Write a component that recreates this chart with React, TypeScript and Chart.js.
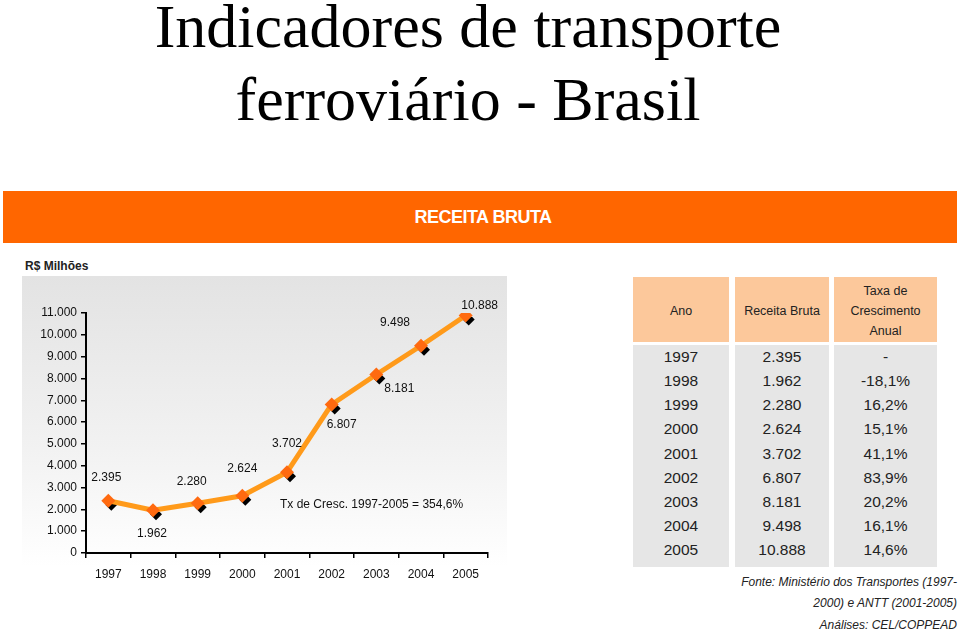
import React, { useEffect, useRef } from "react";
import { Chart, registerables } from "chart.js";

Chart.register(...registerables);

const years = ["1997", "1998", "1999", "2000", "2001", "2002", "2003", "2004", "2005"];
const revenue = [2395, 1962, 2280, 2624, 3702, 6807, 8181, 9498, 10888];
const growth = ["-", "-18,1%", "16,2%", "15,1%", "41,1%", "83,9%", "20,2%", "16,1%", "14,6%"];
const yMin = 0;
const yMax = 11000;
const yStep = 1000;

// label placement relative to each point (style only)
const labelOffsets: [number, number][] = [
  [-2, -23], [-1, 23], [-6, -22], [0, -27], [0, -29], [10, 20], [23, 14], [-26, -23], [14, -10],
];

const FONT = "'Liberation Sans', Arial, sans-serif";

const fmt = (n: number) => {
  const s = Math.round(n).toString();
  return s.replace(/\B(?=(\d{3})+(?!\d))/g, ".");
};

const shadowPlugin = {
  id: "shadowOffset",
  beforeDatasetDraw(chart: any, args: any) {
    if (args.index === 1) {
      chart.ctx.save();
      chart.ctx.translate(3, 4);
    }
  },
  afterDatasetDraw(chart: any, args: any) {
    if (args.index === 1) chart.ctx.restore();
  },
};

const labelPlugin = {
  id: "pointLabels",
  afterDatasetsDraw(chart: any) {
    const ctx = chart.ctx;
    const meta = chart.getDatasetMeta(0);
    ctx.save();
    ctx.font = `12px ${FONT}`;
    ctx.fillStyle = "#111";
    ctx.textAlign = "center";
    ctx.textBaseline = "middle";
    meta.data.forEach((pt: any, i: number) => {
      const [dx, dy] = labelOffsets[i];
      ctx.fillText(fmt(revenue[i]), pt.x + dx, pt.y + dy);
    });
    ctx.restore();
  },
};

function RevenueChart() {
  const ref = useRef<HTMLCanvasElement | null>(null);
  useEffect(() => {
    if (!ref.current) return;
    const chart = new Chart(ref.current, {
      type: "line",
      data: {
        labels: years,
        datasets: [
          {
            data: revenue,
            borderColor: "#FF9A1A",
            borderWidth: 5,
            borderJoinStyle: "round",
            tension: 0,
            pointStyle: "rectRot",
            pointRadius: 7,
            pointBackgroundColor: "#FF6A10",
            pointBorderWidth: 0,
            order: 1,
          },
          {
            data: revenue,
            showLine: false,
            pointStyle: "rectRot",
            pointRadius: 6,
            pointBackgroundColor: "#000",
            pointBorderWidth: 0,
            order: 2,
          },
        ],
      },
      options: {
        animation: false,
        responsive: false,
        devicePixelRatio: 1,
        events: [],
        layout: { padding: { top: 63, right: 32, left: 0, bottom: 0 } },
        plugins: { legend: { display: false }, tooltip: { enabled: false } },
        scales: {
          x: {
            type: "category",
            offset: true,
            grid: { offset: true, drawOnChartArea: false, drawTicks: true, tickLength: 5, color: "#000", lineWidth: 1.5 },
            border: { display: true, color: "#000", width: 2 },
            ticks: { color: "#111", font: { family: FONT, size: 12 }, padding: 9, maxRotation: 0 },
            afterFit: (s: any) => { s.height = 42; },
          },
          y: {
            min: yMin,
            max: yMax,
            ticks: {
              stepSize: yStep,
              color: "#111",
              font: { family: FONT, size: 12 },
              padding: 4,
              callback: (v: any) => fmt(Number(v)),
            },
            grid: { drawOnChartArea: false, drawTicks: true, tickLength: 5, color: "#000", lineWidth: 1.5 },
            border: { display: true, color: "#000", width: 2 },
            afterFit: (s: any) => { s.width = 86; },
          },
        },
      },
      plugins: [shadowPlugin, labelPlugin],
    } as any);
    return () => chart.destroy();
  }, []);
  return (
    <canvas
      ref={ref}
      width={520}
      height={345}
      style={{ position: "absolute", left: 0, top: 250, width: 520, height: 345 }}
    />
  );
}

export default function App() {
  const colL = [633, 735, 834];
  const colW = [96, 94, 103];
  const cell: React.CSSProperties = {
    position: "absolute",
    fontFamily: FONT,
    color: "#222",
    textAlign: "center",
  };
  return (
    <div style={{ position: "absolute", left: 0, top: 0, width: 960, height: 634, background: "#fff", overflow: "hidden" }}>
      <div
        style={{
          position: "absolute", left: 0, top: -10, width: 936, textAlign: "center",
          fontFamily: "'Liberation Serif', 'Times New Roman', serif", fontSize: 62, lineHeight: "73px", color: "#000",
        }}
      >
        Indicadores de transporte
        <br />
        ferroviário - Brasil
      </div>

      <div
        style={{
          position: "absolute", left: 3, top: 191, width: 954, height: 52, background: "#FF6600",
          color: "#fff", fontFamily: FONT, fontWeight: "bold", fontSize: 18, lineHeight: "52px", textAlign: "center",
          letterSpacing: -0.5,
        }}
      >
        <span style={{ position: "relative", left: 3 }}>RECEITA BRUTA</span>
      </div>

      <div style={{ position: "absolute", left: 25, top: 259, fontFamily: FONT, fontWeight: "bold", fontSize: 12, color: "#222" }}>
        R$ Milhões
      </div>

      <div
        style={{
          position: "absolute", left: 22, top: 276, width: 485, height: 316,
          background: "linear-gradient(#e3e3e3 0%, #f2f2f2 55%, #ffffff 92%)",
        }}
      />

      <RevenueChart />

      <div style={{ position: "absolute", left: 280, top: 497, fontFamily: FONT, fontSize: 12, color: "#111", whiteSpace: "nowrap" }}>
        Tx de Cresc. 1997-2005 = 354,6%
      </div>

      {colL.map((l, i) => (
        <div key={"h" + i} style={{ position: "absolute", left: l, top: 277, width: colW[i], height: 65, background: "#FCC89B" }} />
      ))}
      {colL.map((l, i) => (
        <div key={"b" + i} style={{ position: "absolute", left: l, top: 345, width: colW[i], height: 222, background: "#E6E6E6" }} />
      ))}
      <div style={{ ...cell, left: colL[0], top: 302, width: colW[0], fontSize: 12.5, lineHeight: "18px" }}>Ano</div>
      <div style={{ ...cell, left: colL[1], top: 302, width: colW[1], fontSize: 12.5, lineHeight: "18px" }}>Receita Bruta</div>
      <div style={{ ...cell, left: colL[2], top: 281, width: colW[2], fontSize: 12.5, lineHeight: "20px" }}>
        Taxa de
        <br />
        Crescimento
        <br />
        Anual
      </div>
      {years.map((y, i) => (
        <React.Fragment key={y}>
          <div style={{ ...cell, left: colL[0], top: 345 + i * 24.15, width: colW[0], fontSize: 15.5, lineHeight: "24px" }}>{y}</div>
          <div style={{ ...cell, left: colL[1], top: 345 + i * 24.15, width: colW[1], fontSize: 15.5, lineHeight: "24px" }}>{fmt(revenue[i])}</div>
          <div style={{ ...cell, left: colL[2], top: 345 + i * 24.15, width: colW[2], fontSize: 15.5, lineHeight: "24px" }}>{growth[i]}</div>
        </React.Fragment>
      ))}

      <div
        style={{
          position: "absolute", right: 3, top: 572, textAlign: "right", fontFamily: FONT, fontStyle: "italic",
          fontSize: 12, lineHeight: "21px", color: "#222", whiteSpace: "nowrap",
        }}
      >
        Fonte: Ministério dos Transportes (1997-
        <br />
        2000) e ANTT (2001-2005)
      </div>
      <div
        style={{
          position: "absolute", right: 3, top: 617, textAlign: "right", fontFamily: FONT, fontStyle: "italic",
          fontSize: 12, lineHeight: "16px", color: "#222", whiteSpace: "nowrap",
        }}
      >
        Análises: CEL/COPPEAD
      </div>
    </div>
  );
}
